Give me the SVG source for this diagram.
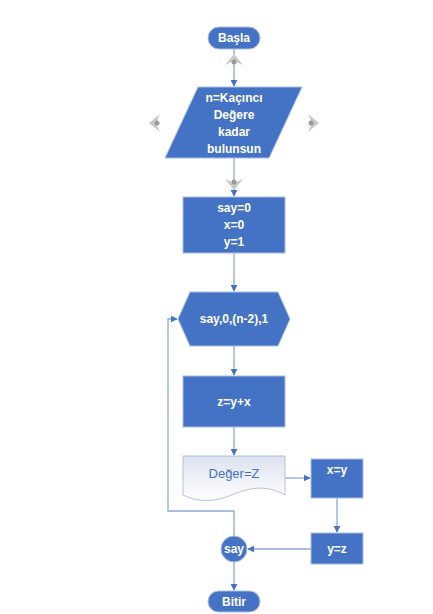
<svg xmlns="http://www.w3.org/2000/svg" width="433" height="614" viewBox="0 0 433 614">
<defs>
<style>
.sh{fill:#4472C4;stroke:#A9BEE4;stroke-width:1}
.t{font-family:"Liberation Sans",Arial,sans-serif;font-size:12px;font-weight:bold;fill:#fff;text-anchor:middle}
.dt{font-family:"Liberation Sans",Arial,sans-serif;font-size:13px;fill:#4472C4;text-anchor:middle}
.c{fill:none;stroke:#8EA9DB;stroke-width:1.3}
.h{fill:#C8C8C8}
.hd{fill:#9A9A9A}
</style>
<marker id="ar" viewBox="0 0 10 10" refX="9" refY="5" markerWidth="7" markerHeight="7" markerUnits="userSpaceOnUse" orient="auto">
<path d="M0,0 L10,5 L0,10 z" fill="#4472C4"/>
</marker>
<linearGradient id="dg" x1="0" y1="0" x2="0" y2="1">
<stop offset="0" stop-color="#DCE2EF"/>
<stop offset="1" stop-color="#FFFFFF"/>
</linearGradient>
</defs>
<rect width="433" height="614" fill="#fff"/>
<g id="connectors">
<line class="c" x1="234" y1="49" x2="234" y2="86" marker-end="url(#ar)"/>
<line class="c" x1="234" y1="158" x2="234" y2="196" marker-end="url(#ar)"/>
<line class="c" x1="234" y1="253" x2="234" y2="291" marker-end="url(#ar)"/>
<line class="c" x1="234" y1="346" x2="234" y2="375" marker-end="url(#ar)"/>
<line class="c" x1="234" y1="427" x2="234" y2="455" marker-end="url(#ar)"/>
<line class="c" x1="285" y1="478" x2="310" y2="478" marker-end="url(#ar)"/>
<line class="c" x1="337" y1="498" x2="337" y2="532" marker-end="url(#ar)"/>
<line class="c" x1="311" y1="549" x2="248" y2="549" marker-end="url(#ar)"/>
<polyline class="c" points="234,536 234,511 168,511 168,319 177,319" marker-end="url(#ar)"/>
<line class="c" x1="234" y1="562" x2="234" y2="590" marker-end="url(#ar)"/>
</g>
<g id="handles">
<path class="h" d="M234,54 L243,65 L234,61 L225,65 z"/>
<circle class="hd" cx="234" cy="62" r="2.5"/>
<path class="h" d="M234,190 L243,179 L234,183 L225,179 z"/>
<circle class="hd" cx="234" cy="182" r="2.5"/>
<path class="h" d="M149,123 L160,114 L156,123 L160,132 z"/>
<circle class="hd" cx="157" cy="123" r="2.5"/>
<path class="h" d="M319,123 L308,114 L312,123 L308,132 z"/>
<circle class="hd" cx="311" cy="123" r="2.5"/>
</g>
<g id="basla">
<rect class="sh" x="208" y="27" width="52" height="22" rx="11"/>
<text class="t" x="234" y="42">Başla</text>
</g>
<g id="input">
<polygon class="sh" points="198,87 302,87 269,158 165,158"/>
<text class="t" x="234" y="102">n=Kaçıncı</text>
<text class="t" x="234" y="119">Değere</text>
<text class="t" x="234" y="136">kadar</text>
<text class="t" x="234" y="153">bulunsun</text>
</g>
<g id="init">
<rect class="sh" x="183" y="197" width="102" height="56"/>
<text class="t" x="234" y="212">say=0</text>
<text class="t" x="234" y="229">x=0</text>
<text class="t" x="234" y="246">y=1</text>
</g>
<g id="loop">
<polygon class="sh" points="190,292 278,292 290,319 278,346 190,346 178,319"/>
<text class="t" x="234" y="323">say,0,(n-2),1</text>
</g>
<g id="calc">
<rect class="sh" x="183" y="376" width="102" height="51"/>
<text class="t" x="234" y="406">z=y+x</text>
</g>
<g id="output">
<path d="M183,456 L285,456 L285,495 C268,485 252,487 234,494 C215,502 200,503 183,495 z" fill="url(#dg)" stroke="#B4C0D8" stroke-width="1"/>
<text class="dt" x="234" y="478">Değer=Z</text>
</g>
<g id="xy">
<rect class="sh" x="311" y="459" width="52" height="39"/>
<text class="t" x="337" y="474">x=y</text>
</g>
<g id="yz">
<rect class="sh" x="311" y="533" width="52" height="31"/>
<text class="t" x="337" y="553">y=z</text>
</g>
<g id="say">
<circle class="sh" cx="234" cy="549" r="13"/>
<text class="t" x="234" y="553">say</text>
</g>
<g id="bitir">
<rect class="sh" x="208" y="591" width="52" height="21" rx="10.5"/>
<text class="t" x="234" y="606">Bitir</text>
</g>
</svg>
